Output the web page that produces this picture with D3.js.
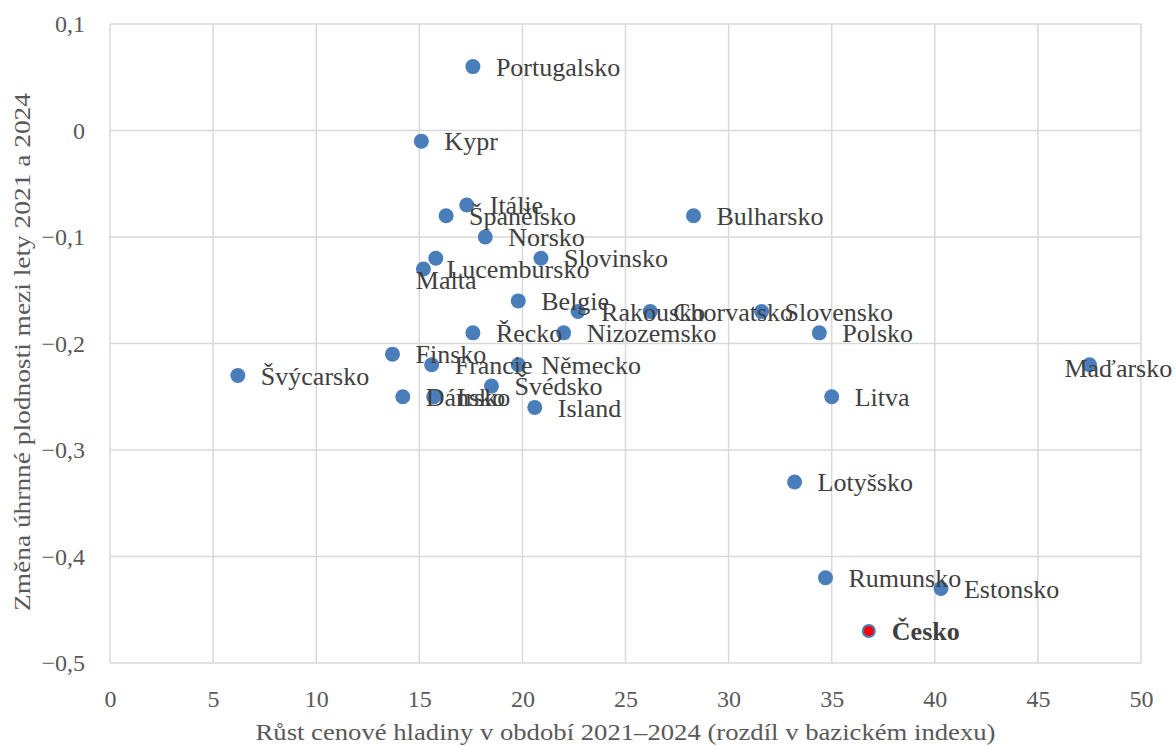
<!DOCTYPE html>
<html>
<head>
<meta charset="utf-8">
<script src="https://cdn.jsdelivr.net/npm/d3@7"></script>
<style>
  body { margin: 0; background: #fff; }
  text { font-family: "Liberation Serif", "Times New Roman", serif; }
</style>
</head>
<body>
<div id="scatter"></div>
<script>
/* data */
var countries = ["Portugalsko", "Kypr", "Itálie", "Španělsko", "Norsko", "Bulharsko", "Slovinsko",
                 "Lucembursko", "Malta", "Belgie", "Rakousko", "Chorvatsko", "Slovensko", "Polsko",
                 "Řecko", "Nizozemsko", "Maďarsko", "Finsko", "Francie", "Německo", "Švýcarsko",
                 "Švédsko", "Dánsko", "Irsko", "Island", "Litva", "Lotyšsko", "Rumunsko", "Estonsko", "Česko"];

var priceGrowth = [17.6, 15.1, 17.3, 16.3, 18.2, 28.3, 20.9,
                   15.2, 15.8, 19.8, 22.7, 26.2, 31.6, 34.4,
                   17.6, 22.0, 47.5, 13.7, 15.6, 19.8, 6.2,
                   18.5, 14.2, 15.7, 20.6, 35.0, 33.2, 34.7, 40.3, 36.8];

var fertilityChange = [0.06, -0.01, -0.07, -0.08, -0.10, -0.08, -0.12,
                       -0.13, -0.12, -0.16, -0.17, -0.17, -0.17, -0.19,
                       -0.19, -0.19, -0.22, -0.21, -0.22, -0.22, -0.23,
                       -0.24, -0.25, -0.25, -0.26, -0.25, -0.33, -0.42, -0.43, -0.47];

var xTicks = [0, 5, 10, 15, 20, 25, 30, 35, 40, 45, 50],
    yTicks = [0.1, 0, -0.1, -0.2, -0.3, -0.4, -0.5];

var xLabel = "Růst cenové hladiny v období 2021–2024 (rozdíl v bazickém indexu)",
    yLabel = "Změna úhrnné plodnosti mezi lety 2021 a 2024",
    highlight = "Česko";

/* labels that were moved by hand in the original */
var labelShift = {
    "Malta": [-20, 22],
    "Maďarsko": [-25, 3]
};

var data = countries.map(function(c, i) {
    return { name: c, x: priceGrowth[i], y: fertilityChange[i] };
});

var width = 1176, height = 746,
    margin = { top: 24, right: 35, bottom: 83, left: 110 },
    innerW = width - margin.left - margin.right,
    innerH = height - margin.top - margin.bottom;

var x = d3.scaleLinear().domain([0, 50]).range([0, innerW]),
    y = d3.scaleLinear().domain([-0.5, 0.1]).range([innerH, 0]);

var fmt = function(d) { return d3.format("~g")(+d.toFixed(1)).replace(".", ","); };

var svg = d3.select("#scatter")
            .append("svg")
            .attr("width", width)
            .attr("height", height);

var chart = svg.append("g")
               .attr("transform", "translate(" + margin.left + "," + margin.top + ")");

/* grid lines */
chart.append("g")
        .selectAll("line")
        .data(xTicks)
        .enter().append("line")
            .attr("x1", x).attr("x2", x)
            .attr("y1", 0).attr("y2", innerH)
            .attr("stroke", "#d9d9d9")
            .attr("stroke-width", 1.5);

chart.append("g")
        .selectAll("line")
        .data(yTicks)
        .enter().append("line")
            .attr("y1", y).attr("y2", y)
            .attr("x1", 0).attr("x2", innerW)
            .attr("stroke", "#d9d9d9")
            .attr("stroke-width", 1.5);

/* axes: only tick labels */
var xAxis = d3.axisBottom(x).tickValues(xTicks).tickSize(0).tickPadding(27).tickFormat(fmt),
    yAxis = d3.axisLeft(y).tickValues(yTicks).tickSize(0).tickPadding(25).tickFormat(fmt);

chart.append("g")
        .attr("transform", "translate(0," + innerH + ")")
        .call(xAxis)
        .call(function(g) { g.select(".domain").remove(); })
        .selectAll("text")
            .attr("font-size", 24)
            .attr("font-family", "Liberation Serif")
            .attr("fill", "#595959");

chart.append("g")
        .call(yAxis)
        .call(function(g) { g.select(".domain").remove(); })
        .selectAll("text")
            .attr("font-size", 24)
            .attr("font-family", "Liberation Serif")
            .attr("fill", "#595959");

/* axis titles */
svg.append("text")
        .attr("x", margin.left + innerW / 2)
        .attr("y", 740)
        .attr("text-anchor", "middle")
        .attr("font-size", 24)
        .attr("fill", "#595959")
        .attr("textLength", 740)
        .attr("lengthAdjust", "spacingAndGlyphs")
        .text(xLabel);

svg.append("text")
        .attr("transform", "translate(30," + 352 + ")rotate(-90)")
        .attr("text-anchor", "middle")
        .attr("font-size", 24)
        .attr("fill", "#595959")
        .attr("textLength", 518)
        .attr("lengthAdjust", "spacingAndGlyphs")
        .text(yLabel);

/* points */
chart.append("g")
        .selectAll("circle")
        .data(data)
        .enter().append("circle")
            .attr("cx", function(d) { return x(d.x); })
            .attr("cy", function(d) { return y(d.y); })
            .attr("r", function(d) { return d.name === highlight ? 6 : 7.5; })
            .attr("fill", function(d) { return d.name === highlight ? "#ff0000" : "#4a7ebb"; })
            .attr("stroke", function(d) { return d.name === highlight ? "#4a7ebb" : "none"; })
            .attr("stroke-width", 2);

/* data labels */
chart.append("g")
        .selectAll("text")
        .data(data)
        .enter().append("text")
            .attr("x", function(d) { return x(d.x) + (labelShift[d.name] ? labelShift[d.name][0] : 23); })
            .attr("y", function(d) { return y(d.y) + (labelShift[d.name] ? labelShift[d.name][1] : 0); })
            .attr("dy", "0.35em")
            .attr("font-size", 26)
            .attr("font-weight", function(d) { return d.name === highlight ? "bold" : "normal"; })
            .attr("fill", "#404040")
            .text(function(d) { return d.name; });
</script>
</body>
</html>
